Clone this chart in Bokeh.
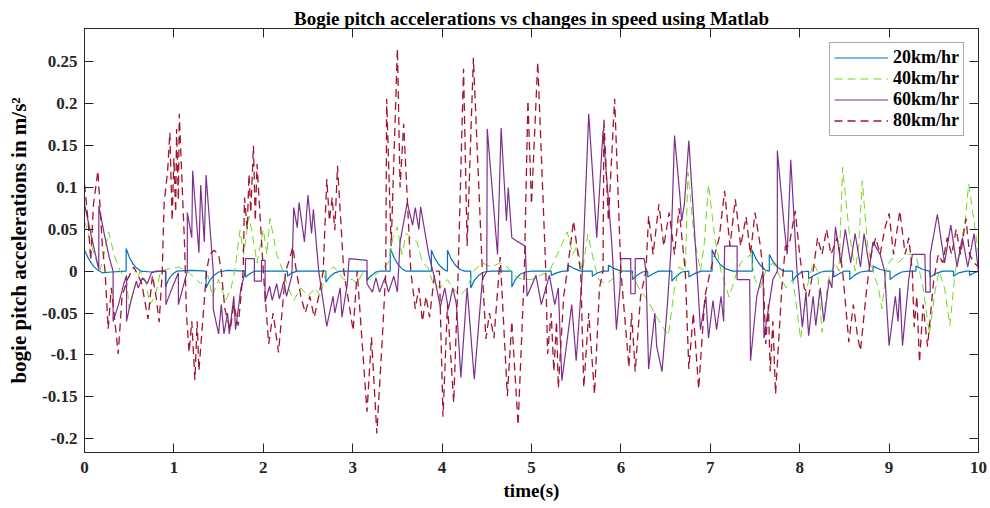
from bokeh.plotting import figure
from bokeh.models import Range1d, LinearAxis, FixedTicker, Legend, LegendItem
from bokeh.embed import file_html
from bokeh.resources import INLINE

# ---------------- data ----------------
series_names = ["20km/hr", "40km/hr", "60km/hr", "80km/hr"]

x_ticks = [0, 1, 2, 3, 4, 5, 6, 7, 8, 9, 10]
y_ticks = [-0.2, -0.15, -0.1, -0.05, 0, 0.05, 0.1, 0.15, 0.2, 0.25]
y_tick_labels = ["-0.2", "-0.15", "-0.1", "-0.05", "0", "0.05", "0.1", "0.15", "0.2", "0.25"]

pts_20 = [
    (0.00, 0.025), (0.05, 0.014), (0.10, 0.006), (0.15, 0.001), (0.20, -0.002), (0.30, -0.001), (0.466, 0.000),
    (0.466, 0.027), (0.50, 0.017), (0.54, 0.009), (0.58, 0.004), (0.63, 0.000), (0.75, -0.001), (0.906, 0.000),
    (0.906, -0.019), (0.94, -0.010), (0.98, -0.004), (1.03, 0.000), (1.20, 0.001), (1.36, 0.000),
    (1.36, -0.020), (1.40, -0.011), (1.45, -0.005), (1.50, -0.001), (1.60, 0.001), (1.80, 0.000),
    (1.80, -0.007), (1.85, -0.003), (1.90, 0.000), (2.27, 0.000),
    (2.27, -0.006), (2.32, -0.002), (2.38, 0.000), (2.70, 0.000),
    (2.70, -0.013), (2.74, -0.007), (2.80, -0.002), (2.86, 0.000), (3.16, 0.000),
    (3.16, -0.011), (3.20, -0.006), (3.26, -0.001), (3.30, 0.000), (3.42, 0.000),
    (3.42, 0.027), (3.46, 0.017), (3.50, 0.009), (3.55, 0.003), (3.60, 0.000), (3.88, 0.000),
    (3.88, 0.025), (3.92, 0.015), (3.97, 0.007), (4.02, 0.002), (4.06, 0.000),
    (4.06, 0.025), (4.10, 0.015), (4.15, 0.007), (4.20, 0.002), (4.25, 0.000), (4.32, 0.000),
    (4.32, -0.020), (4.36, -0.011), (4.41, -0.005), (4.47, -0.001), (4.55, 0.000), (4.78, 0.000),
    (4.78, -0.019), (4.82, -0.010), (4.87, -0.004), (4.93, -0.001), (5.00, 0.000),
    (5.22, 0.000), (5.22, -0.005), (5.28, -0.002), (5.35, 0.000),
    (5.41, 0.000), (5.41, 0.007), (5.48, 0.003), (5.55, 0.000),
    (5.68, 0.000), (5.68, -0.006), (5.74, -0.002), (5.80, 0.000),
    (5.86, 0.000), (5.86, 0.007), (5.93, 0.003), (6.00, 0.000),
    (6.13, 0.000), (6.13, -0.010), (6.18, -0.005), (6.24, -0.001),
    (6.30, 0.000), (6.30, -0.007), (6.36, -0.003), (6.42, 0.000),
    (6.57, 0.000), (6.57, -0.012), (6.62, -0.006), (6.68, -0.001),
    (6.76, 0.000), (6.76, -0.007), (6.82, -0.003), (6.90, 0.000),
    (7.02, 0.000), (7.02, 0.026), (7.06, 0.016), (7.11, 0.008), (7.17, 0.003), (7.25, 0.000),
    (7.47, 0.000), (7.47, 0.025), (7.51, 0.015), (7.56, 0.007), (7.62, 0.001),
    (7.66, 0.000), (7.66, 0.020), (7.70, 0.012), (7.75, 0.005), (7.82, 0.000),
    (7.92, 0.000), (7.92, -0.012), (7.96, -0.006), (8.02, -0.001),
    (8.10, 0.000), (8.10, -0.009), (8.16, -0.005), (8.24, -0.001), (8.30, 0.000),
    (8.38, 0.000), (8.38, -0.007), (8.44, -0.003), (8.50, 0.000),
    (8.56, 0.000), (8.56, -0.010), (8.61, -0.005), (8.68, -0.001), (8.75, 0.000),
    (8.82, 0.000), (8.82, 0.006), (8.90, 0.002), (8.98, 0.000),
    (9.01, 0.000), (9.01, -0.010), (9.07, -0.005), (9.14, -0.001), (9.22, 0.000),
    (9.30, 0.000), (9.30, 0.006), (9.38, 0.002), (9.45, 0.000),
    (9.46, -0.007), (9.52, -0.003), (9.60, 0.000),
    (9.72, 0.000), (9.72, -0.006), (9.78, -0.002), (9.86, 0.000),
    (9.90, 0.000), (9.90, -0.005), (9.95, -0.002), (10.00, 0.000),
]

pts_40 = [
    (0.00, 0.060), (0.08, 0.030), (0.17, 0.000), (0.22, 0.020), (0.27, 0.047), (0.33, 0.020), (0.40, 0.000),
    (0.47, -0.010), (0.50, -0.045), (0.56, -0.020), (0.62, 0.000), (0.68, -0.010), (0.73, -0.040),
    (0.79, -0.030), (0.85, 0.000), (0.95, 0.003), (1.05, 0.005), (1.15, 0.000), (1.25, -0.010),
    (1.30, -0.015), (1.38, -0.005), (1.43, -0.030), (1.50, -0.010), (1.58, -0.035), (1.64, -0.020),
    (1.68, 0.000), (1.74, 0.049), (1.78, 0.020), (1.84, 0.066), (1.90, 0.030), (1.93, 0.010),
    (2.00, 0.050), (2.04, 0.020), (2.075, 0.063), (2.15, 0.020), (2.22, 0.000), (2.28, -0.020),
    (2.34, -0.035), (2.42, -0.020), (2.50, -0.030), (2.58, -0.020), (2.64, -0.030), (2.70, 0.000),
    (2.79, 0.005), (2.90, -0.010), (3.00, -0.010), (3.05, -0.015), (3.12, 0.000), (3.20, -0.010),
    (3.30, 0.000), (3.40, 0.010), (3.45, 0.040), (3.50, 0.053), (3.55, 0.020), (3.60, 0.045),
    (3.65, 0.040), (3.72, 0.035), (3.78, 0.010), (3.84, 0.005), (3.90, -0.015), (3.98, -0.020),
    (4.06, -0.010), (4.12, -0.020), (4.20, -0.030), (4.28, -0.020), (4.35, 0.000), (4.45, 0.010),
    (4.55, 0.005), (4.65, 0.010), (4.73, 0.005), (4.80, -0.005), (4.90, -0.010), (5.00, -0.010),
    (5.10, -0.005), (5.20, 0.000), (5.31, 0.025), (5.40, 0.047), (5.46, 0.020), (5.51, 0.030),
    (5.57, 0.000), (5.63, 0.044), (5.70, 0.010), (5.75, -0.010), (5.83, -0.015), (5.90, -0.010),
    (6.00, 0.000), (6.11, 0.000), (6.20, -0.020), (6.30, -0.035), (6.40, -0.055), (6.53, -0.077),
    (6.60, -0.020), (6.65, 0.005), (6.72, 0.000), (6.75, 0.118), (6.82, 0.040), (6.89, 0.000),
    (6.93, 0.030), (6.98, 0.104), (7.05, 0.040), (7.12, 0.000), (7.21, -0.031), (7.30, 0.000),
    (7.34, 0.010), (7.45, 0.020), (7.50, -0.010), (7.56, -0.020), (7.62, 0.000), (7.70, 0.010),
    (7.77, -0.005), (7.85, -0.020), (7.92, -0.010), (7.95, -0.030), (8.01, -0.081), (8.08, -0.020),
    (8.15, 0.010), (8.20, 0.000), (8.25, -0.073), (8.32, -0.010), (8.40, 0.010), (8.44, 0.000),
    (8.48, 0.124), (8.55, 0.050), (8.62, 0.000), (8.66, 0.030), (8.70, 0.108), (8.76, 0.030),
    (8.82, 0.000), (8.88, -0.020), (8.92, -0.045), (8.97, 0.005), (9.03, 0.015), (9.10, 0.010),
    (9.20, 0.020), (9.30, 0.020), (9.38, -0.020), (9.45, -0.075), (9.52, -0.020), (9.56, 0.000),
    (9.62, -0.020), (9.68, -0.065), (9.74, 0.000), (9.80, 0.030), (9.85, 0.060), (9.89, 0.104),
    (9.95, 0.060), (10.00, 0.020),
]

pts_60 = [
    (0.00, 0.080), (0.08, 0.040), (0.16, 0.002), (0.16, 0.078), (0.22, 0.045), (0.28, 0.015), (0.32, 0.000),
    (0.32, -0.060), (0.38, -0.040), (0.44, -0.015), (0.47, -0.005), (0.47, -0.060), (0.52, -0.035),
    (0.58, -0.012), (0.60, -0.020), (0.65, -0.008), (0.70, -0.015), (0.75, -0.002), (0.80, 0.000),
    (0.91, 0.000), (0.91, -0.040), (0.98, -0.020), (1.05, -0.002), (1.05, -0.040), (1.10, -0.020),
    (1.15, 0.000), (1.15, 0.070), (1.20, 0.040), (1.21, 0.120), (1.28, 0.022), (1.30, 0.103),
    (1.34, 0.035), (1.36, 0.115), (1.44, 0.000), (1.44, -0.045), (1.50, -0.075), (1.53, -0.040),
    (1.56, -0.075), (1.60, -0.050), (1.62, -0.075), (1.67, -0.030), (1.69, -0.070), (1.75, -0.020),
    (1.80, 0.000), (1.80, 0.015), (1.90, 0.015), (1.90, -0.012), (1.98, -0.012), (1.98, 0.013),
    (2.02, 0.013), (2.02, -0.037), (2.07, -0.018), (2.10, -0.035), (2.15, -0.015), (2.18, -0.033),
    (2.23, -0.012), (2.26, -0.030), (2.32, -0.005), (2.34, 0.076), (2.38, 0.052), (2.40, 0.082),
    (2.46, 0.035), (2.50, 0.091), (2.54, 0.045), (2.56, 0.074), (2.62, 0.000), (2.71, -0.066),
    (2.78, -0.030), (2.80, -0.050), (2.86, -0.020), (2.88, -0.055), (2.94, -0.015), (2.96, 0.015),
    (3.16, 0.013), (3.16, -0.015), (3.22, -0.025), (3.26, -0.008), (3.30, -0.025), (3.36, -0.008),
    (3.40, -0.025), (3.46, -0.006), (3.50, -0.025), (3.53, 0.035), (3.61, 0.082), (3.67, 0.055),
    (3.70, 0.076), (3.74, 0.050), (3.76, 0.077), (3.85, 0.020), (3.92, -0.010), (3.98, -0.043),
    (4.03, -0.020), (4.07, -0.045), (4.12, -0.020), (4.16, -0.040), (4.21, -0.127), (4.28, -0.020),
    (4.36, -0.129), (4.45, -0.010), (4.50, 0.000), (4.505, 0.170), (4.62, 0.020), (4.66, 0.171),
    (4.72, 0.060), (4.74, 0.100), (4.78, 0.040), (4.85, 0.035), (4.93, 0.030), (4.95, -0.030),
    (5.05, -0.005), (5.11, -0.040), (5.20, -0.005), (5.26, -0.040), (5.30, -0.020), (5.34, -0.131),
    (5.45, -0.040), (5.50, -0.107), (5.57, 0.000), (5.64, 0.188), (5.73, 0.040), (5.80, 0.168),
    (5.90, 0.030), (5.95, -0.070), (5.99, -0.020), (6.00, 0.015), (6.11, 0.015), (6.11, -0.027),
    (6.16, -0.027), (6.16, 0.015), (6.26, 0.015), (6.28, 0.000), (6.31, -0.117), (6.38, -0.050),
    (6.40, -0.090), (6.46, -0.120), (6.52, -0.040), (6.56, 0.025), (6.60, 0.162), (6.66, 0.090),
    (6.68, 0.060), (6.71, 0.080), (6.76, 0.156), (6.84, 0.020), (6.89, -0.070), (6.95, -0.030),
    (6.98, -0.080), (7.03, -0.035), (7.07, -0.070), (7.12, -0.030), (7.15, -0.060), (7.16, 0.030),
    (7.30, 0.030), (7.30, -0.010), (7.44, -0.010), (7.45, -0.107), (7.52, -0.030), (7.59, 0.000),
    (7.60, -0.080), (7.70, -0.010), (7.75, 0.000), (7.75, 0.144), (7.83, 0.050), (7.86, 0.020),
    (7.90, 0.133), (7.97, 0.000), (8.03, -0.067), (8.07, -0.025), (8.10, -0.077), (8.15, -0.030),
    (8.18, -0.065), (8.23, -0.020), (8.27, -0.060), (8.33, -0.010), (8.36, -0.020), (8.40, 0.053),
    (8.46, 0.010), (8.51, 0.050), (8.57, 0.010), (8.62, 0.045), (8.68, 0.005), (8.72, 0.045),
    (8.78, 0.005), (8.82, 0.035), (8.90, 0.020), (8.95, 0.000), (9.00, -0.089), (9.07, -0.030),
    (9.10, -0.060), (9.12, -0.020), (9.15, -0.089), (9.22, -0.010), (9.26, 0.020), (9.40, 0.020),
    (9.41, -0.025), (9.46, -0.025), (9.46, 0.020), (9.54, 0.068), (9.62, 0.010), (9.69, 0.055),
    (9.76, 0.005), (9.82, 0.040), (9.88, 0.005), (9.95, 0.045), (10.00, 0.000),
]

pts_80 = [
    (0.00, 0.104), (0.04, 0.060), (0.07, 0.013), (0.10, 0.080), (0.15, 0.120), (0.20, 0.030), (0.23, 0.000),
    (0.265, -0.069), (0.30, -0.020), (0.34, -0.060), (0.377, -0.099), (0.42, -0.030), (0.48, -0.010),
    (0.55, 0.005), (0.60, -0.005), (0.64, -0.015), (0.71, -0.057), (0.76, -0.005), (0.80, -0.030),
    (0.835, -0.061), (0.87, 0.000), (0.89, 0.080), (0.93, 0.120), (0.955, 0.166), (0.98, 0.060),
    (1.00, 0.135), (1.02, 0.070), (1.03, 0.170), (1.05, 0.085), (1.06, 0.188), (1.12, 0.030),
    (1.14, -0.050), (1.17, -0.097), (1.20, -0.060), (1.235, -0.130), (1.26, -0.060), (1.28, -0.119),
    (1.365, 0.000), (1.40, 0.020), (1.45, 0.025), (1.50, 0.020), (1.53, 0.000), (1.57, -0.045),
    (1.63, -0.070), (1.67, -0.040), (1.72, -0.065), (1.775, 0.000), (1.79, 0.088), (1.82, 0.050),
    (1.84, 0.116), (1.86, 0.070), (1.89, 0.150), (1.91, 0.060), (1.93, 0.128), (2.00, 0.000),
    (2.06, -0.087), (2.11, -0.050), (2.17, -0.097), (2.25, 0.000), (2.29, 0.013), (2.33, 0.029),
    (2.37, 0.000), (2.42, -0.030), (2.47, -0.050), (2.52, -0.030), (2.57, -0.055), (2.62, -0.030),
    (2.67, 0.000), (2.71, 0.110), (2.74, 0.060), (2.77, 0.088), (2.80, 0.049), (2.83, 0.126),
    (2.90, 0.000), (2.96, -0.040), (3.005, -0.071), (3.05, 0.000), (3.16, -0.168), (3.21, -0.079),
    (3.27, -0.194), (3.33, -0.083), (3.37, 0.000), (3.38, 0.206), (3.43, 0.030), (3.50, 0.266),
    (3.53, 0.100), (3.57, 0.176), (3.65, 0.000), (3.70, -0.045), (3.74, -0.020), (3.78, -0.060),
    (3.82, -0.030), (3.86, -0.055), (3.92, 0.000), (3.97, 0.000), (4.01, -0.174), (4.06, -0.040),
    (4.13, -0.157), (4.18, 0.000), (4.24, 0.242), (4.28, 0.030), (4.35, 0.255), (4.45, 0.000),
    (4.49, -0.081), (4.53, -0.050), (4.58, -0.080), (4.65, 0.017), (4.73, -0.149), (4.78, -0.060),
    (4.85, -0.184), (4.92, 0.000), (4.96, 0.204), (5.00, 0.080), (5.07, 0.250), (5.16, 0.000),
    (5.18, -0.099), (5.22, -0.050), (5.25, -0.120), (5.28, -0.060), (5.30, -0.140), (5.36, -0.030),
    (5.40, 0.000), (5.47, 0.060), (5.52, 0.020), (5.55, 0.000), (5.585, -0.139), (5.64, -0.050),
    (5.705, -0.147), (5.76, -0.020), (5.80, 0.000), (5.81, 0.182), (5.86, 0.060), (5.93, 0.206),
    (6.00, 0.000), (6.09, -0.115), (6.12, -0.050), (6.16, -0.120), (6.22, -0.030), (6.28, 0.000),
    (6.31, 0.066), (6.36, 0.020), (6.425, 0.080), (6.48, 0.030), (6.54, 0.070), (6.60, 0.020),
    (6.65, 0.075), (6.72, 0.000), (6.76, -0.117), (6.81, -0.050), (6.87, -0.141), (6.94, -0.030),
    (7.00, 0.000), (7.05, 0.020), (7.10, 0.040), (7.16, 0.096), (7.22, 0.030), (7.28, 0.086),
    (7.34, 0.030), (7.40, 0.065), (7.45, 0.020), (7.50, 0.070), (7.56, 0.030), (7.59, 0.000),
    (7.62, -0.087), (7.65, -0.040), (7.67, -0.120), (7.70, -0.060), (7.73, -0.147), (7.80, -0.020),
    (7.84, 0.030), (7.88, 0.030), (7.95, 0.072), (8.00, 0.020), (8.05, -0.020), (8.10, -0.030),
    (8.15, 0.000), (8.20, 0.040), (8.25, 0.020), (8.30, 0.050), (8.35, 0.020), (8.42, 0.040),
    (8.48, 0.000), (8.55, -0.085), (8.60, -0.040), (8.65, -0.080), (8.68, -0.095), (8.75, -0.020),
    (8.80, 0.020), (8.85, 0.040), (8.90, 0.020), (8.95, 0.050), (9.00, 0.069), (9.05, 0.020),
    (9.12, 0.072), (9.18, 0.020), (9.22, 0.040), (9.26, 0.000), (9.28, -0.067), (9.31, -0.030),
    (9.34, -0.109), (9.38, -0.040), (9.43, -0.090), (9.50, -0.010), (9.55, 0.020), (9.60, 0.010),
    (9.65, 0.040), (9.70, 0.020), (9.75, 0.050), (9.80, 0.020), (9.86, 0.063), (9.90, 0.020),
    (9.95, 0.010), (10.00, 0.005),
]

# ---------------- styling ----------------
FONT = "Liberation Serif"
AXIS_COLOR = "#262626"
colors = ["#0072BD", "#72D81E", "#7E2F8E", "#A2142F"]
dashes = ["solid", "8 5", "solid", "8 5"]
widths = [1.2, 1.0, 1.2, 1.3]

p = figure(
    width=990, height=508,
    x_range=Range1d(0, 10), y_range=Range1d(-0.2167, 0.29),
    output_backend="svg", toolbar_location=None,
    min_border_left=84, min_border_right=12, min_border_top=28, min_border_bottom=56,
    background_fill_color="white", border_fill_color="white",
)
p.grid.visible = False
p.outline_line_color = AXIS_COLOR
p.outline_line_width = 1

p.title.text = "Bogie pitch accelerations vs changes in speed using Matlab"
p.title.text_font = FONT
p.title.text_font_style = "bold"
p.title.text_font_size = "19px"
p.title.align = "center"
p.title.text_color = "black"
p.title.standoff = 0
p.title.offset = 0

renderers = []
for pts, c, d, w in zip([pts_20, pts_40, pts_60, pts_80], colors, dashes, widths):
    xs = [q[0] for q in pts]
    ys = [q[1] for q in pts]
    r = p.line(xs, ys, line_color=c, line_dash=d, line_width=w)
    renderers.append(r)

def style_axis(ax, show_labels):
    ax.axis_line_color = AXIS_COLOR
    ax.major_tick_line_color = AXIS_COLOR
    ax.minor_tick_line_color = None
    ax.major_tick_in = 9
    ax.major_tick_out = 0
    if show_labels:
        ax.major_label_text_font = FONT
        ax.major_label_text_font_style = "bold"
        ax.major_label_text_font_size = "17px"
        ax.major_label_text_color = "#262626"
    else:
        ax.major_label_text_font_size = "1px"
        ax.major_label_text_color = None
        ax.major_label_standoff = 0

xax = p.xaxis[0]
yax = p.yaxis[0]
xax.ticker = FixedTicker(ticks=x_ticks)
yax.ticker = FixedTicker(ticks=y_ticks)
yax.major_label_overrides = {t: s for t, s in zip(y_ticks, y_tick_labels)}
style_axis(xax, True)
style_axis(yax, True)
xax.major_label_standoff = 9
yax.major_label_standoff = 7

xax.axis_label = "time(s)"
yax.axis_label = "bogie pitch accelerations in m/s\u00b2"
for ax in (xax, yax):
    ax.axis_label_text_font = FONT
    ax.axis_label_text_font_style = "bold"
    ax.axis_label_text_color = "black"
xax.axis_label_text_font_size = "19px"
yax.axis_label_text_font_size = "21px"
xax.axis_label_standoff = 4
yax.axis_label_standoff = 8

top_ax = LinearAxis(ticker=FixedTicker(ticks=x_ticks))
right_ax = LinearAxis(ticker=FixedTicker(ticks=y_ticks))
style_axis(top_ax, False)
style_axis(right_ax, False)
p.add_layout(top_ax, "above")
p.add_layout(right_ax, "right")

legend = Legend(
    items=[LegendItem(label=n, renderers=[r]) for n, r in zip(series_names, renderers)],
    location="top_right",
)
legend.label_text_font = FONT
legend.label_text_font_style = "bold"
legend.label_text_font_size = "18px"
legend.label_text_color = "black"
legend.glyph_width = 54
legend.glyph_height = 21
legend.label_height = 21
legend.label_standoff = 5
legend.spacing = 0
legend.padding = 4
legend.margin = 14
legend.border_line_color = "#555555"
legend.border_line_width = 1.5
legend.background_fill_alpha = 1
p.add_layout(legend, "center")

open("out.html", "w").write(file_html(p, INLINE))
